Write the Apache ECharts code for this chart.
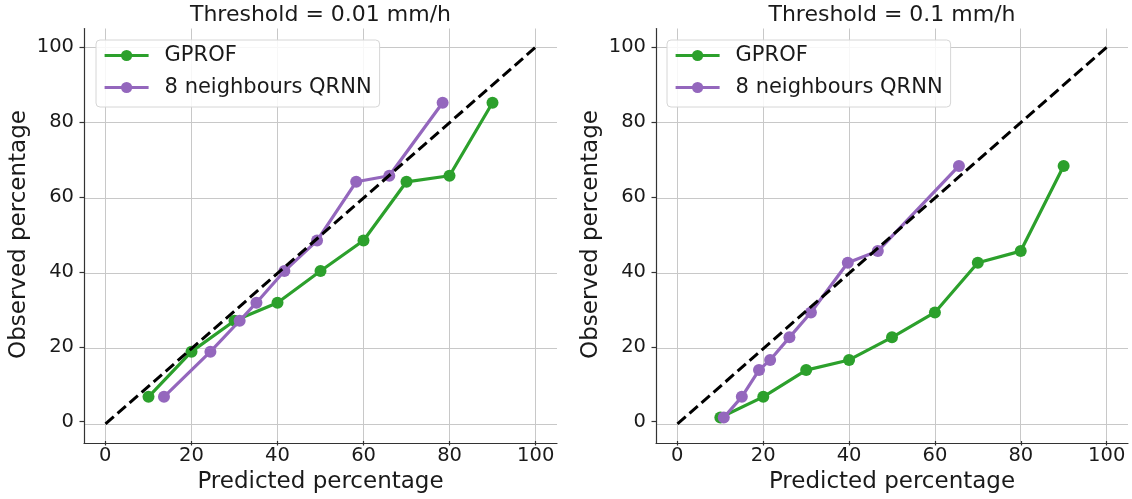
<!DOCTYPE html>
<html>
<head>
<meta charset="utf-8">
<script src="https://cdn.jsdelivr.net/npm/echarts@6/dist/echarts.min.js"></script>
<style>
html,body{margin:0;padding:0;background:#fff;}
#chart{width:1132px;height:499px;}
</style>
</head>
<body>
<div id="chart"></div>
<script>
// ---- data ----
const titles = ['Threshold = 0.01 mm/h', 'Threshold = 0.1 mm/h'];
const seriesNames = ['GPROF', '8 neighbours QRNN'];
const xLabel = 'Predicted percentage';
const yLabel = 'Observed percentage';
const tickValues = [0, 20, 40, 60, 80, 100];
const diagonal = [0, 100];

const gprofX001 = [10, 20, 30, 40, 50, 60, 70, 80, 90];
const gprofY001 = [7.2, 19.2, 27.4, 32.2, 40.6, 48.7, 64.3, 65.9, 85.3];
const qrnnX001 = [13.6, 24.4, 31.2, 35.1, 41.6, 49.2, 58.3, 66.0, 78.4];
const qrnnY001 = [7.2, 19.2, 27.4, 32.2, 40.6, 48.7, 64.3, 65.9, 85.3];

const gprofX01 = [10, 20, 30, 40, 50, 60, 70, 80, 90];
const gprofY01 = [1.7, 7.2, 14.3, 17.0, 23.0, 29.6, 42.8, 45.9, 68.5];
const qrnnX01 = [10.8, 15.0, 19.0, 21.6, 26.1, 31.1, 39.7, 46.7, 65.6];
const qrnnY01 = [1.7, 7.2, 14.3, 17.0, 23.0, 29.6, 42.8, 45.9, 68.5];

// ---- styling / layout ----
const GREEN = '#2ca02c', PURPLE = '#9467bd';
const FONT = 'DejaVu Sans';
const TXT = '#1a1a1a';
const GRIDC = '#c8c8c8';
const T = 'rgba(0,0,0,0)';

const panels = [
  {outer: {left: 84, width: 473}, inner: {left: 105.3, width: 430.4},
   gx: gprofX001, gy: gprofY001, qx: qrnnX001, qy: qrnnY001, legendLeft: 96, title: titles[0]},
  {outer: {left: 656, width: 472}, inner: {left: 677.3, width: 429.4},
   gx: gprofX01, gy: gprofY01, qx: qrnnX01, qy: qrnnY01, legendLeft: 667, title: titles[1]}
];
const OUT_TOP = 28.5, OUT_H = 414.3, IN_TOP = 47.3, IN_H = 376.7;

const zip = (a, b) => a.map((v, i) => [v, b[i]]);

const grid = [], xAxis = [], yAxis = [], series = [], legend = [], graphic = [];
panels.forEach((p, k) => {
  const go = grid.length;
  grid.push({left: p.outer.left, width: p.outer.width, top: OUT_TOP, height: OUT_H, containLabel: false});
  grid.push({left: p.inner.left, width: p.inner.width, top: IN_TOP, height: IN_H, containLabel: false});
  const splitColors = [T, GRIDC, T, T];
  // outer axes: spines + grid lines, data plotted here
  xAxis.push({type: 'value', gridIndex: go, min: -5, max: 105, interval: 5,
    axisLine: {show: true, onZero: false, lineStyle: {color: '#333', width: 1.2}},
    axisTick: {show: false}, axisLabel: {show: false},
    splitLine: {show: true, lineStyle: {color: splitColors, width: 1}}});
  yAxis.push({type: 'value', gridIndex: go, min: -5, max: 105, interval: 5,
    axisLine: {show: true, onZero: false, lineStyle: {color: '#333', width: 1.2}},
    axisTick: {show: false}, axisLabel: {show: false},
    splitLine: {show: true, lineStyle: {color: splitColors, width: 1}}});
  // inner axes: ticks + labels at 0..100
  xAxis.push({type: 'value', gridIndex: go + 1, min: tickValues[0], max: tickValues[tickValues.length - 1], interval: 20,
    offset: 19.3,
    axisLine: {show: false, onZero: false},
    axisTick: {show: true, length: 4.5, lineStyle: {color: '#333', width: 1.2}},
    axisLabel: {show: true, fontSize: 19.5, color: TXT, fontFamily: FONT, margin: 5},
    splitLine: {show: false},
    name: xLabel, nameLocation: 'middle', nameGap: 30,
    nameTextStyle: {fontSize: 23, color: TXT, fontFamily: FONT}});
  yAxis.push({type: 'value', gridIndex: go + 1, min: tickValues[0], max: tickValues[tickValues.length - 1], interval: 20,
    offset: p.inner.left - p.outer.left,
    axisLine: {show: false, onZero: false},
    axisTick: {show: true, length: 4.5, lineStyle: {color: '#333', width: 1.2}},
    axisLabel: {show: true, fontSize: 19.5, color: TXT, fontFamily: FONT, margin: 10, padding: [5, 0, 0, 0]},
    splitLine: {show: false},
    name: yLabel, nameLocation: 'middle', nameGap: 53,
    nameTextStyle: {fontSize: 23, color: TXT, fontFamily: FONT}});

  const common = {type: 'line', xAxisIndex: go, yAxisIndex: go, symbol: 'circle', symbolSize: 12,
    showSymbol: true, emphasis: {disabled: true}, silent: true};
  series.push(Object.assign({}, common, {name: seriesNames[0], data: zip(p.gx, p.gy), z: 2,
    itemStyle: {color: GREEN}, lineStyle: {width: 3.2, color: GREEN}}));
  series.push(Object.assign({}, common, {name: seriesNames[1], data: zip(p.qx, p.qy), z: 3,
    itemStyle: {color: PURPLE}, lineStyle: {width: 3.2, color: PURPLE}}));
  series.push({type: 'line', name: 'diag', xAxisIndex: go, yAxisIndex: go, symbol: 'none', silent: true, z: 4,
    data: zip(diagonal, diagonal), lineStyle: {color: '#000', width: 3, type: [11, 5]}});

  legend.push({orient: 'vertical', left: p.legendLeft, top: 40, data: seriesNames.slice(),
    selectedMode: false, itemWidth: 44, itemHeight: 14, itemGap: 11,
    padding: [5, 8, 9, 7],
    lineStyle: {width: 3.2},
    backgroundColor: 'rgba(255,255,255,0.85)', borderColor: '#d6d6d6', borderWidth: 1, borderRadius: 4,
    textStyle: {fontSize: 21, color: TXT, fontFamily: FONT, padding: [0, 0, 0, 11]}});

  graphic.push({type: 'text', x: p.outer.left + p.outer.width / 2, y: 15,
    style: {text: p.title, fontSize: 22, fontFamily: FONT, fill: TXT, textAlign: 'center', textVerticalAlign: 'middle'}});
});

const chart = echarts.init(document.getElementById('chart'), null, {renderer: 'canvas'});
chart.setOption({
  animation: false,
  backgroundColor: '#fff',
  textStyle: {fontFamily: FONT},
  grid, xAxis, yAxis, series, legend, graphic
});
</script>
</body>
</html>
